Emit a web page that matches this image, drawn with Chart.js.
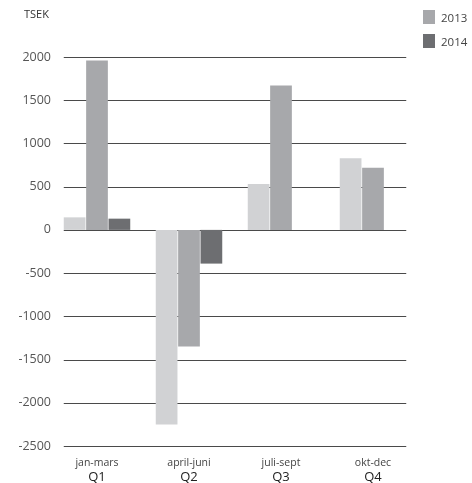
<!DOCTYPE html>
<html>
<head>
<meta charset="utf-8">
<script src="https://cdn.jsdelivr.net/npm/chart.js@4"></script>
<style>
  html, body { margin: 0; padding: 0; background: #fff; overflow: hidden; }
  #wrap { position: relative; width: 472px; height: 483px; }
  #title { position: absolute; left: 24px; top: 6px; font: 11px "Open Sans", sans-serif; color: #333; }
  #legend { position: absolute; left: 423px; top: -19px; font: 11.5px "Open Sans", sans-serif; color: #444; }
  .item { height: 24px; display: flex; align-items: center; }
  .box { width: 12px; height: 14px; margin-right: 6px; }
</style>
</head>
<body>
<div id="wrap">
  <canvas id="c" width="472" height="483"></canvas>
  <div id="title">TSEK</div>
  <div id="legend"></div>
</div>
<script>
const periods = ["jan-mars", "april-juni", "juli-sept", "okt-dec"];
const quarters = ["Q1", "Q2", "Q3", "Q4"];
const seriesNames = ["2012", "2013", "2014"];
const values2012 = [145, -2250, 530, 830];
const values2013 = [1960, -1350, 1670, 720];
const values2014 = [130, -390, 0, null];
const yTicks = [2000, 1500, 1000, 500, 0, -500, -1000, -1500, -2000, -2500];
const colors = ["#d1d2d4", "#a7a8ab", "#6d6e71"];

const seriesValues = [values2012, values2013, values2014];

const legend = document.getElementById('legend');
seriesNames.forEach((n, i) => {
  const it = document.createElement('div'); it.className = 'item';
  const b = document.createElement('div'); b.className = 'box'; b.style.background = colors[i];
  const t = document.createElement('span'); t.textContent = n;
  it.appendChild(b); it.appendChild(t); legend.appendChild(it);
});

const gridPlugin = {
  id: 'partialGrid',
  beforeDatasetsDraw(chart) {
    const y = chart.scales.y;
    const first = chart.getDatasetMeta(0).data[0];
    const lastMeta = chart.getDatasetMeta(2).data[3];
    const x0 = first.x - first.width / 2;
    const x1 = lastMeta.x + lastMeta.width / 2;
    const ctx = chart.ctx;
    ctx.save();
    ctx.strokeStyle = '#4a4a4a';
    ctx.lineWidth = 1.2;
    yTicks.forEach(v => {
      const py = Math.round(y.getPixelForValue(v)) + 0.5;
      ctx.beginPath(); ctx.moveTo(x0, py); ctx.lineTo(x1, py); ctx.stroke();
    });
    ctx.restore();
  }
};

new Chart(document.getElementById('c'), {
  type: 'bar',
  data: {
    labels: periods,
    datasets: seriesNames.map((n, i) => ({
      label: n,
      data: seriesValues[i],
      backgroundColor: colors[i],
      categoryPercentage: 0.73,
      barPercentage: 0.97
    }))
  },
  options: {
    responsive: false,
    animation: false,
    layout: { padding: { left: 0, right: 53, top: 57, bottom: 0 } },
    plugins: { legend: { display: false }, tooltip: { enabled: false } },
    scales: {
      x: {
        position: 'bottom',
        grid: { display: false, drawTicks: false },
        border: { display: false },
        ticks: { color: '#444', font: { family: 'Open Sans', size: 10.5 }, padding: 11, maxRotation: 0 },
        afterFit(s) { s.height = 23; }
      },
      x2: {
        type: 'category',
        labels: quarters,
        position: 'bottom',
        offset: true,
        grid: { display: false, drawTicks: false },
        border: { display: false },
        ticks: { color: '#222', font: { family: 'Open Sans', size: 13 }, padding: 0, maxRotation: 0 },
        afterFit(s) { s.height = 14; }
      },
      y: {
        min: -2500, max: 2000,
        afterBuildTicks(s) { s.ticks = yTicks.map(v => ({ value: v })); },
        grid: { display: false, drawTicks: false },
        border: { display: false },
        ticks: { color: '#555', font: { family: 'Open Sans', size: 12.5 }, padding: 0, callback: v => String(v) },
        afterFit(s) { s.width = 51; }
      }
    }
  },
  plugins: [gridPlugin]
});
</script>
</body>
</html>
